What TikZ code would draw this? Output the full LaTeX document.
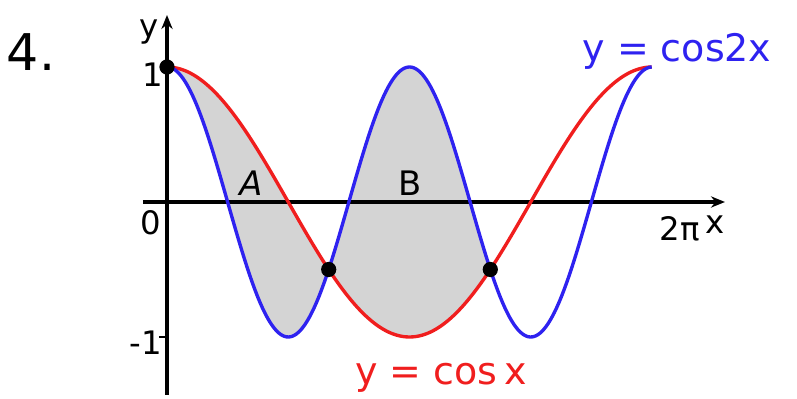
\documentclass[tikz,border=0pt]{standalone}
\usepackage{fontspec}
\setmainfont{DejaVu Sans}
\definecolor{curvered}{HTML}{F01E1E}
\definecolor{curveblue}{HTML}{2E22F0}
\definecolor{areagray}{HTML}{D4D4D4}
\usetikzlibrary{arrows.meta}
\tikzset{
	axisline/.style={line width=2.5pt, -{Stealth[length=3.5mm, width=2.8mm]}},
	curve/.style={line width=2.4pt, samples=240, smooth},
	lbl/.style={inner sep=0pt, font=\fontsize{23}{25}\selectfont},
	eqn/.style={inner sep=0pt, font=\fontsize{27}{29}\selectfont},
	dot/.style={circle, fill=black, inner sep=0pt, minimum size=0.38cm}
}
\begin{document}
\begin{tikzpicture}[x=0.025cm, y=0.025cm]
	\useasboundingbox (-167,-197) rectangle (630,202);
	% shaded regions A and B
	\fill[areagray] plot[domain=0:4.18879, samples=200] ({\x*77.19}, {135*cos(\x r)})
		-- plot[domain=4.18879:0, samples=200] ({\x*77.19}, {135*cos(2*\x r)}) -- cycle;
	% axes
	\draw[axisline] (-24,0) -- (558,0);
	\draw[axisline] (0,-193) -- (0,187);
	\draw[line width=1.8pt] (-8,-135) -- (0,-135);
	% curves
	\draw[curve, curvered] plot[domain=0:6.2832] ({\x*77.19}, {135*cos(\x r)});
	\draw[curve, curveblue] plot[domain=0:6.2832] ({\x*77.19}, {135*cos(2*\x r)});
	% intersections
	\node[dot] (p0) at (0,135) {};
	\node[dot] (p1) at (161.7,-67.5) {};
	\node[dot] (p2) at (323.3,-67.5) {};
	% labels
	\node[lbl, font=\fontsize{36}{38}\selectfont] (num) at (-136,150) {4.};
	\node[lbl] (ylab) at (-18,170) {y};
	\node[lbl] (one) at (-14,127) {1};
	\node[lbl] (zero) at (-16,-21) {0};
	\node[lbl] (mone) at (-21,-141) {-1};
	\node[lbl, font=\fontsize{24}{26}\itshape] (A) at (84,19) {A};
	\node[lbl, font=\fontsize{24}{26}\selectfont] (B) at (243,19) {B};
	\node[lbl] (twopi) at (513,-27) {2π};
	\node[lbl] (xlab) at (548,-23) {x};
	\node[eqn, text=curveblue] (cos2) at (510,151) {y = cos2x};
	\node[eqn, text=curvered] (cos1) at (274,-176) {y = cos\,x};
\end{tikzpicture}
\end{document}
